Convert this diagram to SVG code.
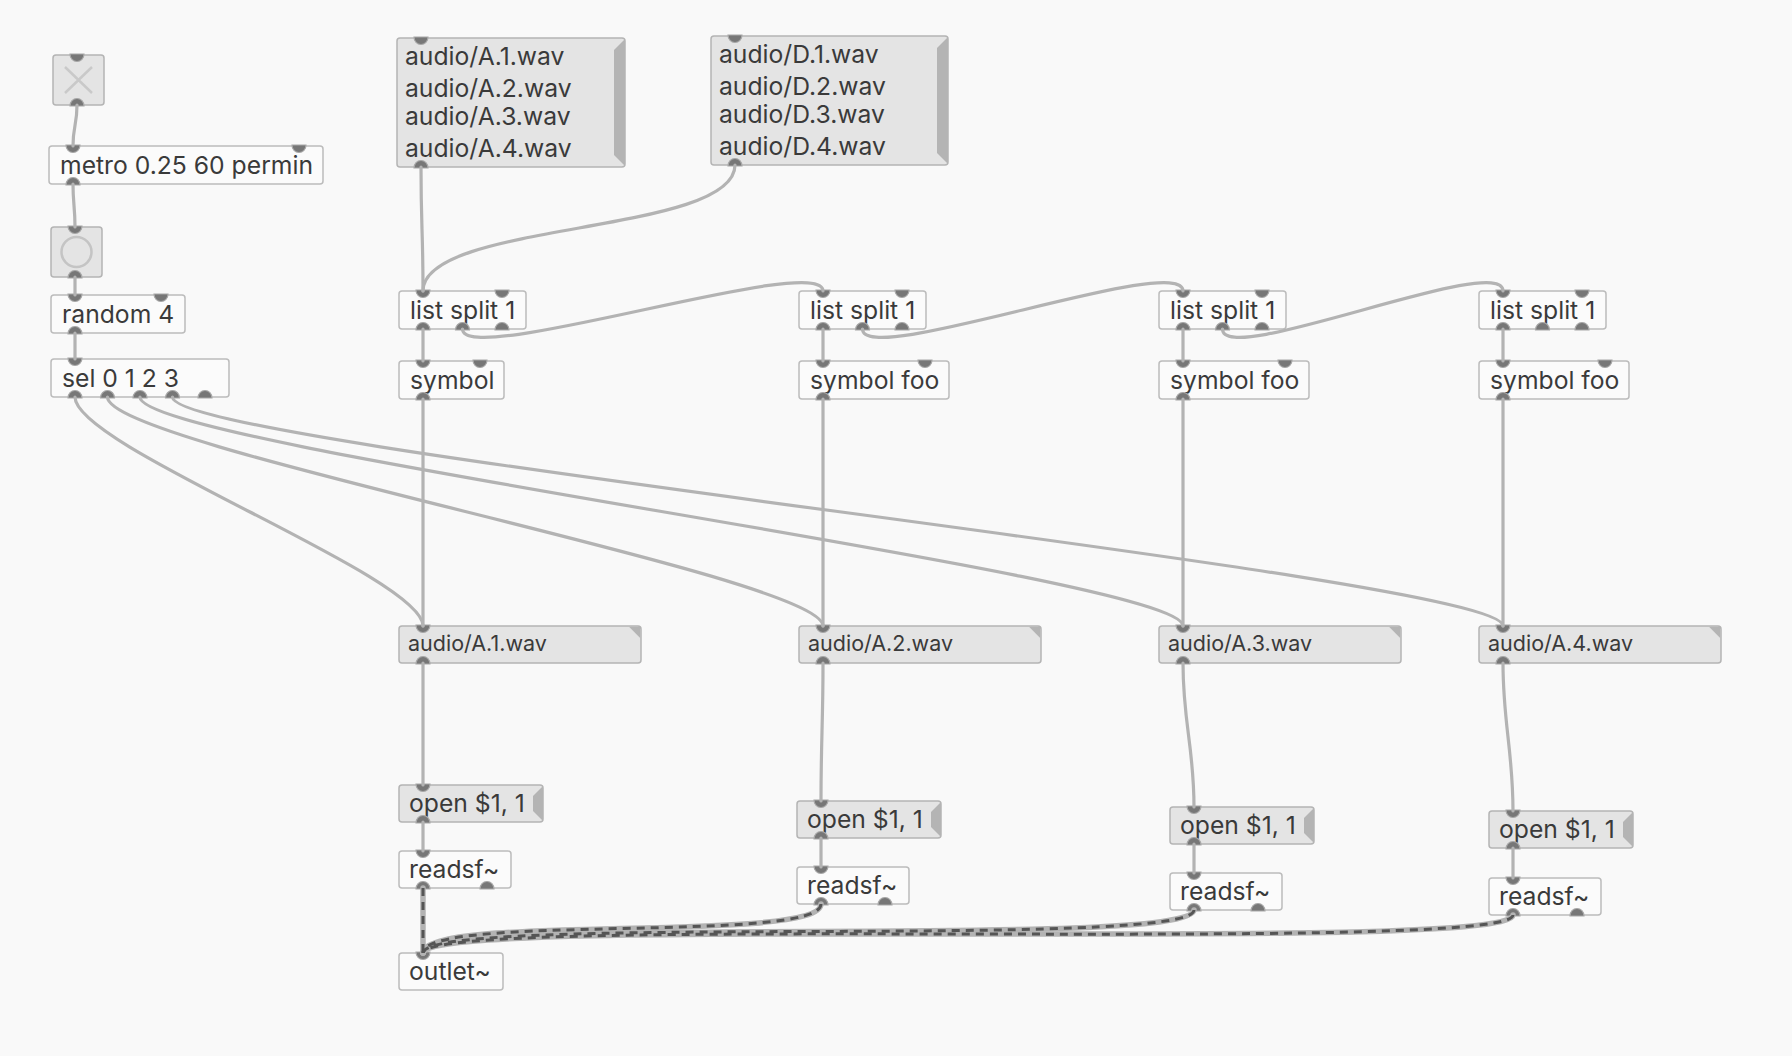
<svg xmlns="http://www.w3.org/2000/svg" width="1792" height="1056" viewBox="0 0 1792 1056">
<defs>
<style>
.obj{fill:#fbfbfb;stroke:#bcbcbc;stroke-width:1.5}
.msg{fill:#e4e4e4;stroke:#b4b4b4;stroke-width:1.5}
.flag{fill:#b4b4b4}
.t{font-family:Inter,"Liberation Sans",sans-serif;font-size:24.7px;fill:#3a3a3a}
.ts{font-size:21.5px}
.nub{fill:#777;stroke:#a8a8a8;stroke-width:1.2}
.cable{fill:none;stroke:#b3b3b3;stroke-width:3.2;stroke-linecap:round}
.sig{fill:none;stroke:#b3b3b3;stroke-width:5.5;stroke-linecap:round}
.sigd{fill:none;stroke:#555;stroke-width:3;stroke-dasharray:8 6}
</style>
<path id="ni" class="nub" d="M-7,-1 A7,7.5 0 0 0 7,-1 Z"/>
<path id="no" class="nub" d="M-7,1 A7,7.5 0 0 1 7,1 Z"/>
</defs>
<rect width="1792" height="1056" fill="#f9f9f9"/>

<g id="toggle">
<rect x="53" y="55" width="51" height="50" rx="3" class="msg"/>
<path d="M65,67 L92,93 M92,67 L65,93" stroke="#c9c9c9" stroke-width="2.5"/>
<use href="#ni" x="77" y="55"/><use href="#no" x="77" y="105"/>
</g>
<g id="metro">
<rect x="49" y="146" width="274" height="38" rx="3" class="obj"/>
<text x="60" y="174" class="t">metro 0.25 60 permin</text>
<use href="#ni" x="73" y="146"/><use href="#ni" x="299" y="146"/><use href="#no" x="73" y="184"/>
</g>
<g id="bang">
<rect x="51" y="227" width="51" height="50" rx="3" class="msg"/>
<circle cx="76.5" cy="252" r="15" fill="none" stroke="#c4c4c4" stroke-width="2.5"/>
<use href="#ni" x="75" y="227"/><use href="#no" x="75" y="277"/>
</g>
<g id="random">
<rect x="51" y="295" width="134" height="38" rx="3" class="obj"/>
<text x="62" y="323" class="t">random 4</text>
<use href="#ni" x="75" y="295"/><use href="#ni" x="161" y="295"/><use href="#no" x="75" y="333"/>
</g>
<g id="sel">
<rect x="51" y="359" width="178" height="38" rx="3" class="obj"/>
<text x="62" y="387" class="t">sel 0 1 2 3</text>
<use href="#ni" x="75" y="359"/>
<use href="#no" x="75" y="397"/><use href="#no" x="107.5" y="397"/><use href="#no" x="140" y="397"/><use href="#no" x="172.5" y="397"/><use href="#no" x="205" y="397"/>
</g>

<g id="msgA">
<rect x="397" y="38" width="228" height="129" rx="3" class="msg"/>
<path class="flag" d="M625,39 L614,50 L614,155 L625,166 Z"/>
<text x="405" y="65" class="t">audio/A.1.wav</text>
<text x="405" y="97" class="t">audio/A.2.wav</text>
<text x="405" y="125" class="t">audio/A.3.wav</text>
<text x="405" y="157" class="t">audio/A.4.wav</text>
<use href="#ni" x="421" y="38"/><use href="#no" x="421" y="167"/>
</g>
<g id="msgD">
<rect x="711" y="36" width="237" height="129" rx="3" class="msg"/>
<path class="flag" d="M948,37 L937,48 L937,153 L948,164 Z"/>
<text x="719" y="63" class="t">audio/D.1.wav</text>
<text x="719" y="95" class="t">audio/D.2.wav</text>
<text x="719" y="123" class="t">audio/D.3.wav</text>
<text x="719" y="155" class="t">audio/D.4.wav</text>
<use href="#ni" x="735" y="36"/><use href="#no" x="735" y="165"/>
</g>

<g id="listsplit1">
<rect x="399" y="291" width="127" height="38" rx="3" class="obj"/>
<text x="410" y="319" class="t">list split 1</text>
<use href="#ni" x="423" y="291"/><use href="#ni" x="502" y="291"/>
<use href="#no" x="423" y="329"/><use href="#no" x="462.5" y="329"/><use href="#no" x="502" y="329"/>
</g>
<g id="listsplit2">
<rect x="799" y="291" width="127" height="38" rx="3" class="obj"/>
<text x="810" y="319" class="t">list split 1</text>
<use href="#ni" x="823" y="291"/><use href="#ni" x="902" y="291"/>
<use href="#no" x="823" y="329"/><use href="#no" x="862.5" y="329"/><use href="#no" x="902" y="329"/>
</g>
<g id="listsplit3">
<rect x="1159" y="291" width="127" height="38" rx="3" class="obj"/>
<text x="1170" y="319" class="t">list split 1</text>
<use href="#ni" x="1183" y="291"/><use href="#ni" x="1262" y="291"/>
<use href="#no" x="1183" y="329"/><use href="#no" x="1222.5" y="329"/><use href="#no" x="1262" y="329"/>
</g>
<g id="listsplit4">
<rect x="1479" y="291" width="127" height="38" rx="3" class="obj"/>
<text x="1490" y="319" class="t">list split 1</text>
<use href="#ni" x="1503" y="291"/><use href="#ni" x="1582" y="291"/>
<use href="#no" x="1503" y="329"/><use href="#no" x="1542.5" y="329"/><use href="#no" x="1582" y="329"/>
</g>

<g id="symbol1">
<rect x="399" y="361" width="105" height="38" rx="3" class="obj"/>
<text x="410" y="389" class="t">symbol</text>
<use href="#ni" x="423" y="361"/><use href="#ni" x="480" y="361"/><use href="#no" x="423" y="399"/>
</g>
<g id="symbol2">
<rect x="799" y="361" width="150" height="38" rx="3" class="obj"/>
<text x="810" y="389" class="t">symbol foo</text>
<use href="#ni" x="823" y="361"/><use href="#ni" x="925" y="361"/><use href="#no" x="823" y="399"/>
</g>
<g id="symbol3">
<rect x="1159" y="361" width="150" height="38" rx="3" class="obj"/>
<text x="1170" y="389" class="t">symbol foo</text>
<use href="#ni" x="1183" y="361"/><use href="#ni" x="1285" y="361"/><use href="#no" x="1183" y="399"/>
</g>
<g id="symbol4">
<rect x="1479" y="361" width="150" height="38" rx="3" class="obj"/>
<text x="1490" y="389" class="t">symbol foo</text>
<use href="#ni" x="1503" y="361"/><use href="#ni" x="1605" y="361"/><use href="#no" x="1503" y="399"/>
</g>

<g id="atom1">
<rect x="399" y="626" width="242" height="37" rx="3" class="msg"/>
<path class="flag" d="M629,626.8 L640.2,626.8 L640.2,638 Z"/>
<text x="408" y="651" class="t ts">audio/A.1.wav</text>
<use href="#ni" x="423" y="626"/><use href="#no" x="423" y="663"/>
</g>
<g id="atom2">
<rect x="799" y="626" width="242" height="37" rx="3" class="msg"/>
<path class="flag" d="M1029,626.8 L1040.2,626.8 L1040.2,638 Z"/>
<text x="808" y="651" class="t ts">audio/A.2.wav</text>
<use href="#ni" x="823" y="626"/><use href="#no" x="823" y="663"/>
</g>
<g id="atom3">
<rect x="1159" y="626" width="242" height="37" rx="3" class="msg"/>
<path class="flag" d="M1389,626.8 L1400.2,626.8 L1400.2,638 Z"/>
<text x="1168" y="651" class="t ts">audio/A.3.wav</text>
<use href="#ni" x="1183" y="626"/><use href="#no" x="1183" y="663"/>
</g>
<g id="atom4">
<rect x="1479" y="626" width="242" height="37" rx="3" class="msg"/>
<path class="flag" d="M1709,626.8 L1720.2,626.8 L1720.2,638 Z"/>
<text x="1488" y="651" class="t ts">audio/A.4.wav</text>
<use href="#ni" x="1503" y="626"/><use href="#no" x="1503" y="663"/>
</g>

<g id="open1">
<rect x="399" y="785" width="144" height="37" rx="3" class="msg"/>
<path class="flag" d="M543,786 L533,796 L533,811 L543,821 Z"/>
<text x="409" y="812" class="t">open $1, 1</text>
<use href="#ni" x="423" y="785"/><use href="#no" x="423" y="822"/>
</g>
<g id="open2">
<rect x="797" y="801" width="144" height="37" rx="3" class="msg"/>
<path class="flag" d="M941,802 L931,812 L931,827 L941,837 Z"/>
<text x="807" y="828" class="t">open $1, 1</text>
<use href="#ni" x="821" y="801"/><use href="#no" x="821" y="838"/>
</g>
<g id="open3">
<rect x="1170" y="807" width="144" height="37" rx="3" class="msg"/>
<path class="flag" d="M1314,808 L1304,818 L1304,833 L1314,843 Z"/>
<text x="1180" y="834" class="t">open $1, 1</text>
<use href="#ni" x="1194" y="807"/><use href="#no" x="1194" y="844"/>
</g>
<g id="open4">
<rect x="1489" y="811" width="144" height="37" rx="3" class="msg"/>
<path class="flag" d="M1633,812 L1623,822 L1623,837 L1633,847 Z"/>
<text x="1499" y="838" class="t">open $1, 1</text>
<use href="#ni" x="1513" y="811"/><use href="#no" x="1513" y="848"/>
</g>

<g id="readsf1">
<rect x="399" y="851" width="112" height="37" rx="3" class="obj"/>
<text x="409" y="878" class="t">readsf~</text>
<use href="#ni" x="423" y="851"/><use href="#no" x="423" y="888"/><use href="#no" x="487" y="888"/>
</g>
<g id="readsf2">
<rect x="797" y="867" width="112" height="37" rx="3" class="obj"/>
<text x="807" y="894" class="t">readsf~</text>
<use href="#ni" x="821" y="867"/><use href="#no" x="821" y="904"/><use href="#no" x="885" y="904"/>
</g>
<g id="readsf3">
<rect x="1170" y="873" width="112" height="37" rx="3" class="obj"/>
<text x="1180" y="900" class="t">readsf~</text>
<use href="#ni" x="1194" y="873"/><use href="#no" x="1194" y="910"/><use href="#no" x="1258" y="910"/>
</g>
<g id="readsf4">
<rect x="1489" y="878" width="112" height="37" rx="3" class="obj"/>
<text x="1499" y="905" class="t">readsf~</text>
<use href="#ni" x="1513" y="878"/><use href="#no" x="1513" y="915"/><use href="#no" x="1577" y="915"/>
</g>
<g id="outlet">
<rect x="399" y="953" width="104" height="37" rx="3" class="obj"/>
<text x="409" y="980" class="t">outlet~</text>
<use href="#ni" x="423" y="953"/>
</g>

<g id="connectors">
<g class="cable">
<path d="M77,105 C77,125 73,126 73,146"/>
<path d="M73,184 C73,204 75,207 75,227"/>
<path d="M75,277 L75,295"/>
<path d="M75,333 L75,359"/>
<path d="M421,167 C421,227 423,231 423,291"/>
<path d="M735,165 C735,235 423,221 423,291"/>
<path d="M423,329 L423,361"/>
<path d="M823,329 L823,361"/>
<path d="M1183,329 L1183,361"/>
<path d="M1503,329 L1503,361"/>
<path d="M462.5,329 C462.5,369 823,251 823,291"/>
<path d="M862.5,329 C862.5,369 1183,251 1183,291"/>
<path d="M1222.5,329 C1222.5,369 1503,251 1503,291"/>
<path d="M423,399 L423,626"/>
<path d="M823,399 L823,626"/>
<path d="M1183,399 L1183,626"/>
<path d="M1503,399 L1503,626"/>
<path d="M75,397 C75,447 423,576 423,626"/>
<path d="M107.5,397 C107.5,447 823,576 823,626"/>
<path d="M140,397 C140,447 1183,576 1183,626"/>
<path d="M172.5,397 C172.5,447 1503,576 1503,626"/>
<path d="M423,663 L423,785"/>
<path d="M823,663 C823,723 821,741 821,801"/>
<path d="M1183,663 C1183,723 1194,747 1194,807"/>
<path d="M1503,663 C1503,723 1513,751 1513,811"/>
<path d="M423,822 L423,851"/>
<path d="M821,838 L821,867"/>
<path d="M1194,844 L1194,873"/>
<path d="M1513,848 L1513,878"/>
</g>
<g>
<path class="sig" d="M423,888 L423,953"/>
<path class="sig" d="M821,904 C821,944 423,913 423,953"/>
<path class="sig" d="M1194,910 C1194,950 423,913 423,953"/>
<path class="sig" d="M1513,915 C1513,955 423,913 423,953"/>
<path class="sigd" d="M423,888 L423,953"/>
<path class="sigd" d="M821,904 C821,944 423,913 423,953"/>
<path class="sigd" d="M1194,910 C1194,950 423,913 423,953"/>
<path class="sigd" d="M1513,915 C1513,955 423,913 423,953"/>
</g>
</g>
</svg>
